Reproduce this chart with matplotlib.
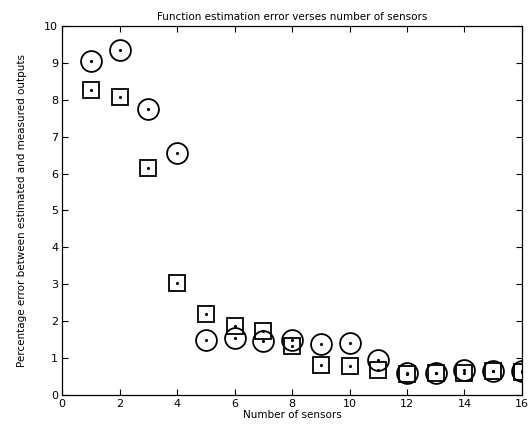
import matplotlib.pyplot as plt
import numpy as np

sensors = np.arange(1, 17)
err_circle = [9.05, 9.35, 7.75, 6.55, 1.48, 1.54, 1.45, 1.5, 1.38, 1.4, 0.95, 0.6, 0.6, 0.68, 0.66, 0.64]
err_square = [8.27, 8.08, 6.15, 3.03, 2.2, 1.87, 1.72, 1.33, 0.8, 0.78, 0.68, 0.58, 0.6, 0.6, 0.66, 0.62]

fig = plt.figure(figsize=(5.32, 4.26), dpi=100)
ax = fig.add_axes([0.117, 0.073, 0.864, 0.866])

# hollow markers with a small dot in the middle, like the scanned figure
ax.plot(sensors, err_circle, 'o', ms=15, mfc='none', mec='black', mew=1.3)
ax.plot(sensors, err_square, 's', ms=11, mfc='none', mec='black', mew=1.3)
ax.plot(sensors, err_circle, '.', ms=2.5, color='black')
ax.plot(sensors, err_square, '.', ms=2.5, color='black')

ax.set_xlim(0, 16)
ax.set_ylim(0, 10)
ax.set_xticks(np.arange(0, 17, 2))
ax.set_yticks(np.arange(0, 11, 1))
ax.tick_params(direction='in', top=True, right=True, labelsize=8, length=4, pad=3)
for s in ax.spines.values():
    s.set_linewidth(0.9)

ax.set_title("Function estimation error verses number of sensors", fontsize=7.5, pad=4)
ax.set_xlabel("Number of sensors", fontsize=7.5, labelpad=0.5)
ax.set_ylabel("Percentage error between estimated and measured outputs", fontsize=7.5, labelpad=12)

fig.savefig("out.png", dpi=100)
plt.close(fig)
